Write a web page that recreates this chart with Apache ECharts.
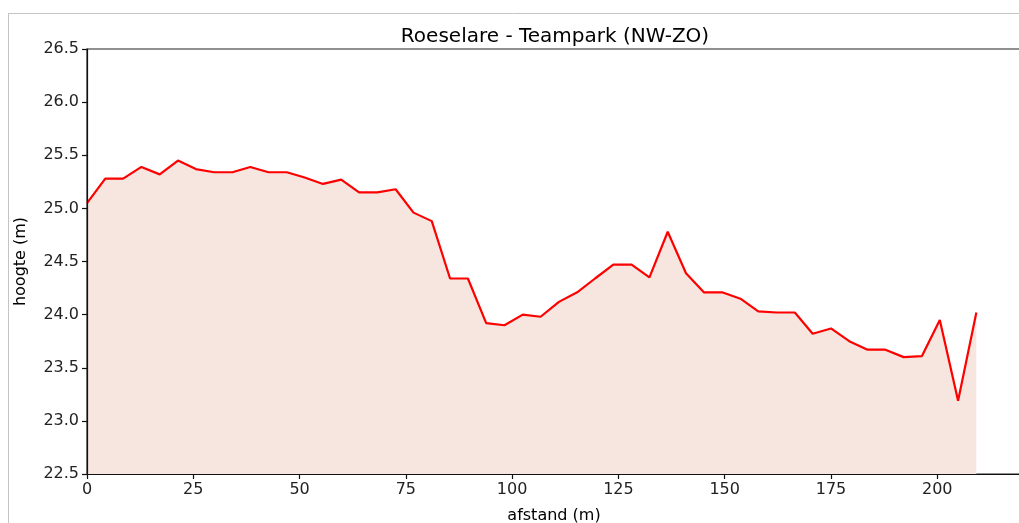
<!DOCTYPE html>
<html>
<head>
<meta charset="utf-8">
<script src="https://cdn.jsdelivr.net/npm/echarts@6/dist/echarts.min.js"></script>
<style>
  html, body { margin: 0; padding: 0; background: #fff; }
  #chart { width: 1019px; height: 523px; }
</style>
</head>
<body>
<div id="chart"></div>
<script>
const afstand = [
  0, 4.3, 8.5, 12.8, 17.1, 21.4, 25.6, 29.9, 34.2, 38.4,
  42.7, 47.0, 51.2, 55.5, 59.8, 64.0, 68.3, 72.6, 76.8, 81.1,
  85.4, 89.6, 93.9, 98.2, 102.5, 106.7, 111.0, 115.3, 119.5, 123.8,
  128.1, 132.3, 136.6, 140.9, 145.1, 149.4, 153.7, 157.9, 162.2, 166.5,
  170.7, 175.0, 179.3, 183.6, 187.8, 192.1, 196.4, 200.6, 204.9, 209.2
];
const hoogte = [
  25.05, 25.28, 25.28, 25.39, 25.32, 25.45, 25.37, 25.34, 25.34, 25.39,
  25.34, 25.34, 25.29, 25.23, 25.27, 25.15, 25.15, 25.18, 24.96, 24.88,
  24.34, 24.34, 23.92, 23.90, 24.00, 23.98, 24.12, 24.21, 24.34, 24.47,
  24.47, 24.35, 24.78, 24.39, 24.21, 24.21, 24.15, 24.03, 24.02, 24.02,
  23.82, 23.87, 23.75, 23.67, 23.67, 23.60, 23.61, 23.95, 23.19, 24.02
];
const xTicks = [0, 25, 50, 75, 100, 125, 150, 175, 200];
const yTicks = [22.5, 23.0, 23.5, 24.0, 24.5, 25.0, 25.5, 26.0, 26.5];

const chart = echarts.init(document.getElementById('chart'));
const font = 'DejaVu Sans';

const option = {
  animation: false,
  backgroundColor: '#fff',
  title: {
    text: 'Roeselare - Teampark (NW-ZO)',
    left: 550,
    textAlign: 'center',
    top: 22,
    textStyle: { fontFamily: font, fontSize: 20, fontWeight: 'normal', color: '#000' }
  },
  graphic: [
    { type: 'line', shape: { x1: 8, y1: 13.5, x2: 1019, y2: 13.5 }, style: { stroke: '#c4c4c4', lineWidth: 1 } },
    { type: 'line', shape: { x1: 8.5, y1: 13, x2: 8.5, y2: 523 }, style: { stroke: '#c4c4c4', lineWidth: 1 } }
  ],
  grid: {
    left: 87, top: 49, bottom: 49, right: -2,
    outerBoundsMode: 'none',
    containLabel: false,
    show: true, borderColor: '#222', borderWidth: 1.2
  },
  xAxis: {
    type: 'value',
    z: 5,
    min: 0,
    max: 219.7,
    interval: 25,
    name: 'afstand (m)',
    nameLocation: 'middle',
    nameGap: 34,
    nameTextStyle: { fontFamily: font, fontSize: 16, color: '#000' },
    splitLine: { show: false },
    axisLine: { lineStyle: { color: '#111', width: 1.2 } },
    axisTick: { length: 5, lineStyle: { color: '#111', width: 1.2 } },
    axisLabel: {
      fontFamily: font, fontSize: 16, color: '#222', margin: 8,
      showMaxLabel: false,
      formatter: v => (xTicks.includes(v) ? String(v) : '')
    }
  },
  yAxis: {
    type: 'value',
    z: 5,
    min: yTicks[0],
    max: yTicks[yTicks.length - 1],
    interval: 0.5,
    name: 'hoogte (m)',
    nameLocation: 'middle',
    nameGap: 58,
    nameTextStyle: { fontFamily: font, fontSize: 16, color: '#000' },
    splitLine: { show: false },
    axisLine: { show: true, lineStyle: { color: '#111', width: 1.2 } },
    axisTick: { show: true, length: 5, lineStyle: { color: '#111', width: 1.2 } },
    axisLabel: {
      fontFamily: font, fontSize: 16, color: '#222', margin: 8,
      formatter: v => v.toFixed(1)
    }
  },
  series: [
    {
      type: 'line',
      data: afstand.map((d, i) => [d, hoogte[i]]),
      symbol: 'none',
      lineStyle: { color: '#ff0000', width: 2.2 },
      areaStyle: { color: '#f7e5df', opacity: 1 },
      z: 2
    }
  ]
};

chart.setOption(option);
</script>
</body>
</html>
